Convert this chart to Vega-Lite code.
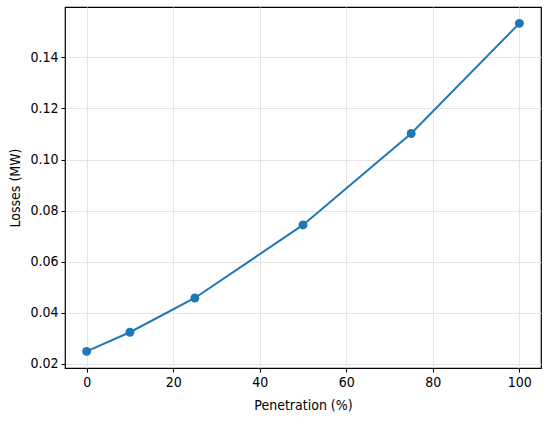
{
  "$schema": "https://vega.github.io/schema/vega-lite/v6.json",
  "autosize": "none",
  "width": 476,
  "height": 361,
  "padding": {"left": 65, "top": 7, "right": 9, "bottom": 54},
  "background": "white",
  "config": {
    "view": {"stroke": "black", "strokeWidth": 1.2},
    "axis": {
      "labelFont": "DejaVu Sans Condensed, DejaVu Sans",
      "titleFont": "DejaVu Sans Condensed, DejaVu Sans",
      "labelFontSize": 14,
      "titleFontSize": 14,
      "titleFontWeight": "normal",
      "labelColor": "black",
      "titleColor": "black",
      "domain": false,
      "tickColor": "black",
      "tickSize": 4,
      "labelPadding": 3,
      "gridColor": "#e5e5e5",
      "gridWidth": 1
    }
  },
  "data": {
    "values": [
      {"penetration": 0, "losses": 0.0249},
      {"penetration": 10, "losses": 0.0324},
      {"penetration": 25, "losses": 0.0458},
      {"penetration": 50, "losses": 0.0744},
      {"penetration": 75, "losses": 0.1102},
      {"penetration": 100, "losses": 0.1533}
    ]
  },
  "encoding": {
    "x": {
      "field": "penetration",
      "type": "quantitative",
      "title": "Penetration (%)",
      "scale": {"domain": [-5, 105], "nice": false, "zero": false},
      "axis": {"values": [0, 20, 40, 60, 80, 100], "titlePadding": 9}
    },
    "y": {
      "field": "losses",
      "type": "quantitative",
      "title": "Losses (MW)",
      "scale": {"domain": [0.0184, 0.1597], "nice": false, "zero": false},
      "axis": {"values": [0.02, 0.04, 0.06, 0.08, 0.1, 0.12, 0.14], "format": ".2f", "titlePadding": 7}
    }
  },
  "layer": [
    {"mark": {"type": "line", "color": "#1f77b4", "strokeWidth": 2}},
    {"mark": {"type": "point", "filled": true, "color": "#1f77b4", "opacity": 1, "size": 80}}
  ]
}
